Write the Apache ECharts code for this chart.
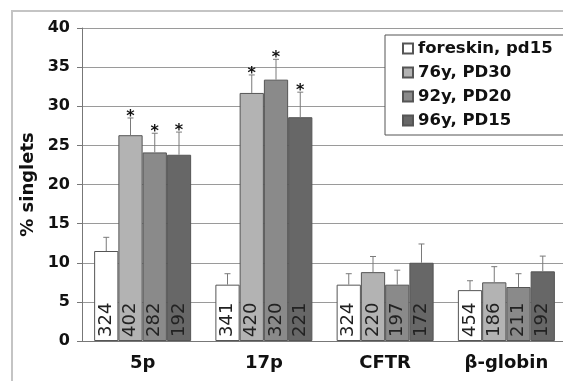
<!DOCTYPE html>
<html>
<head>
<meta charset="utf-8">
<script src="https://cdn.jsdelivr.net/npm/echarts@6/dist/echarts.min.js"></script>
<style>
  html, body { margin: 0; padding: 0; background: #fff; }
  #main { width: 563px; height: 381px; }
</style>
</head>
<body>
<div id="main"></div>
<script>
// chromosome regions on the x axis
var categories = ['5p', '17p', 'CFTR', 'β-globin'];
var seriesNames = ['foreskin, pd15', '76y, PD30', '92y, PD20', '96y, PD15'];
var barColors = ['#ffffff', '#b3b3b3', '#8a8a8a', '#676767'];

// % singlets, one array per cell strain
var foreskinVals = [11.5, 7.2, 7.2, 6.5];
var y76Vals = [26.3, 31.7, 8.8, 7.5];
var y92Vals = [24.1, 33.4, 7.2, 6.9];
var y96Vals = [23.8, 28.6, 10.0, 8.9];

// upper error (same units)
var foreskinErr = [1.75, 1.4, 1.4, 1.2];
var y76Err = [2.2, 2.3, 2.0, 2.0];
var y92Err = [2.45, 2.6, 1.85, 1.7];
var y96Err = [2.9, 3.2, 2.4, 1.95];

// number of cells counted (printed inside bars)
var foreskinN = [324, 341, 324, 454];
var y76N = [402, 420, 220, 186];
var y92N = [282, 320, 197, 211];
var y96N = [192, 221, 172, 192];

// significance stars
var foreskinSig = [0, 0, 0, 0];
var y76Sig = [1, 1, 0, 0];
var y92Sig = [1, 1, 0, 0];
var y96Sig = [1, 1, 0, 0];

var values = [foreskinVals, y76Vals, y92Vals, y96Vals];
var errs = [foreskinErr, y76Err, y92Err, y96Err];
var counts = [foreskinN, y76N, y92N, y96N];
var sigs = [foreskinSig, y76Sig, y92Sig, y96Sig];

var font = 'DejaVu Sans';

var chart = echarts.init(document.getElementById('main'));

var series = [];
seriesNames.forEach(function (name, i) {
    series.push({
        name: name,
        type: 'bar',
        data: values[i],
        barGap: '0%',
        barCategoryGap: '20%',
        itemStyle: { color: barColors[i], borderColor: '#555', borderWidth: 1 },
        label: {
            show: true,
            position: 'insideBottom',
            rotate: 90,
            align: 'left',
            verticalAlign: 'middle',
            distance: 4,
            fontFamily: font,
            fontSize: 18,
            color: '#222',
            formatter: function (p) { return counts[i][p.dataIndex]; }
        },
        z: 2
    });
});

seriesNames.forEach(function (name, i) {
    var d = categories.map(function (c, k) {
        return [k, values[i][k], errs[i][k], sigs[i][k]];
    });
    series.push({
        name: 'err' + i,
        type: 'custom',
        data: d,
        encode: { x: 0, y: 1 },
        z: 3,
        renderItem: function (params, api) {
            var c = api.value(0), v = api.value(1), e = api.value(2), s = api.value(3);
            var cw = api.size([1, 0])[0];
            var off = (i - 1.5) * cw * 0.2;
            var base = api.coord([c, v]);
            var top = api.coord([c, v + e]);
            var x = base[0] + off;
            var kids = [
                { type: 'line', shape: { x1: x, y1: base[1], x2: x, y2: top[1] },
                  style: { stroke: '#7a7a7a', lineWidth: 1 } },
                { type: 'line', shape: { x1: x - 3, y1: top[1], x2: x + 3, y2: top[1] },
                  style: { stroke: '#7a7a7a', lineWidth: 1 } }
            ];
            if (s) {
                kids.push({ type: 'text', style: {
                    text: '*', x: x, y: top[1] + 7, align: 'center', verticalAlign: 'bottom',
                    font: 'bold 16px "DejaVu Sans"', fill: '#111'
                } });
            }
            return { type: 'group', children: kids };
        }
    });
});

var option = {
    animation: false,
    backgroundColor: '#fff',
    graphic: [{
        type: 'polyline',
        shape: { points: [[12, 381], [12, 11], [563, 11]] },
        style: { stroke: '#c4c4c4', lineWidth: 2, fill: null },
        silent: true
    }],
    grid: { left: 82, top: 28, width: 485, height: 313, outerBoundsMode: 'none' },
    legend: {
        data: seriesNames,
        orient: 'vertical',
        left: 385,
        top: 35,
        icon: 'rect',
        itemWidth: 10,
        itemHeight: 10,
        itemGap: 5,
        padding: [4, 60, 5, 17],
        backgroundColor: '#fff',
        borderColor: '#555',
        borderWidth: 1,
        selectedMode: false,
        textStyle: { fontFamily: font, fontWeight: 'bold', fontSize: 16.5, color: '#111', lineHeight: 19 }
    },
    xAxis: {
        type: 'category',
        data: categories,
        axisLine: { lineStyle: { color: '#777' } },
        axisTick: { length: 4, lineStyle: { color: '#777' } },
        axisLabel: { margin: 13, fontFamily: font, fontWeight: 'bold', fontSize: 18, color: '#111' },
        splitLine: { show: false }
    },
    yAxis: {
        type: 'value',
        min: 0,
        max: 40,
        interval: 5,
        name: '% singlets',
        nameLocation: 'middle',
        nameGap: 45,
        nameTextStyle: { fontFamily: font, fontWeight: 'bold', fontSize: 18, color: '#111' },
        axisLine: { show: true, lineStyle: { color: '#777' } },
        axisTick: { show: true, length: 5, lineStyle: { color: '#777' } },
        axisLabel: { margin: 12, fontFamily: font, fontWeight: 'bold', fontSize: 16, color: '#111' },
        splitLine: { lineStyle: { color: '#9a9a9a', width: 1.2 } }
    },
    series: series
};
chart.setOption(option);
</script>
</body>
</html>
